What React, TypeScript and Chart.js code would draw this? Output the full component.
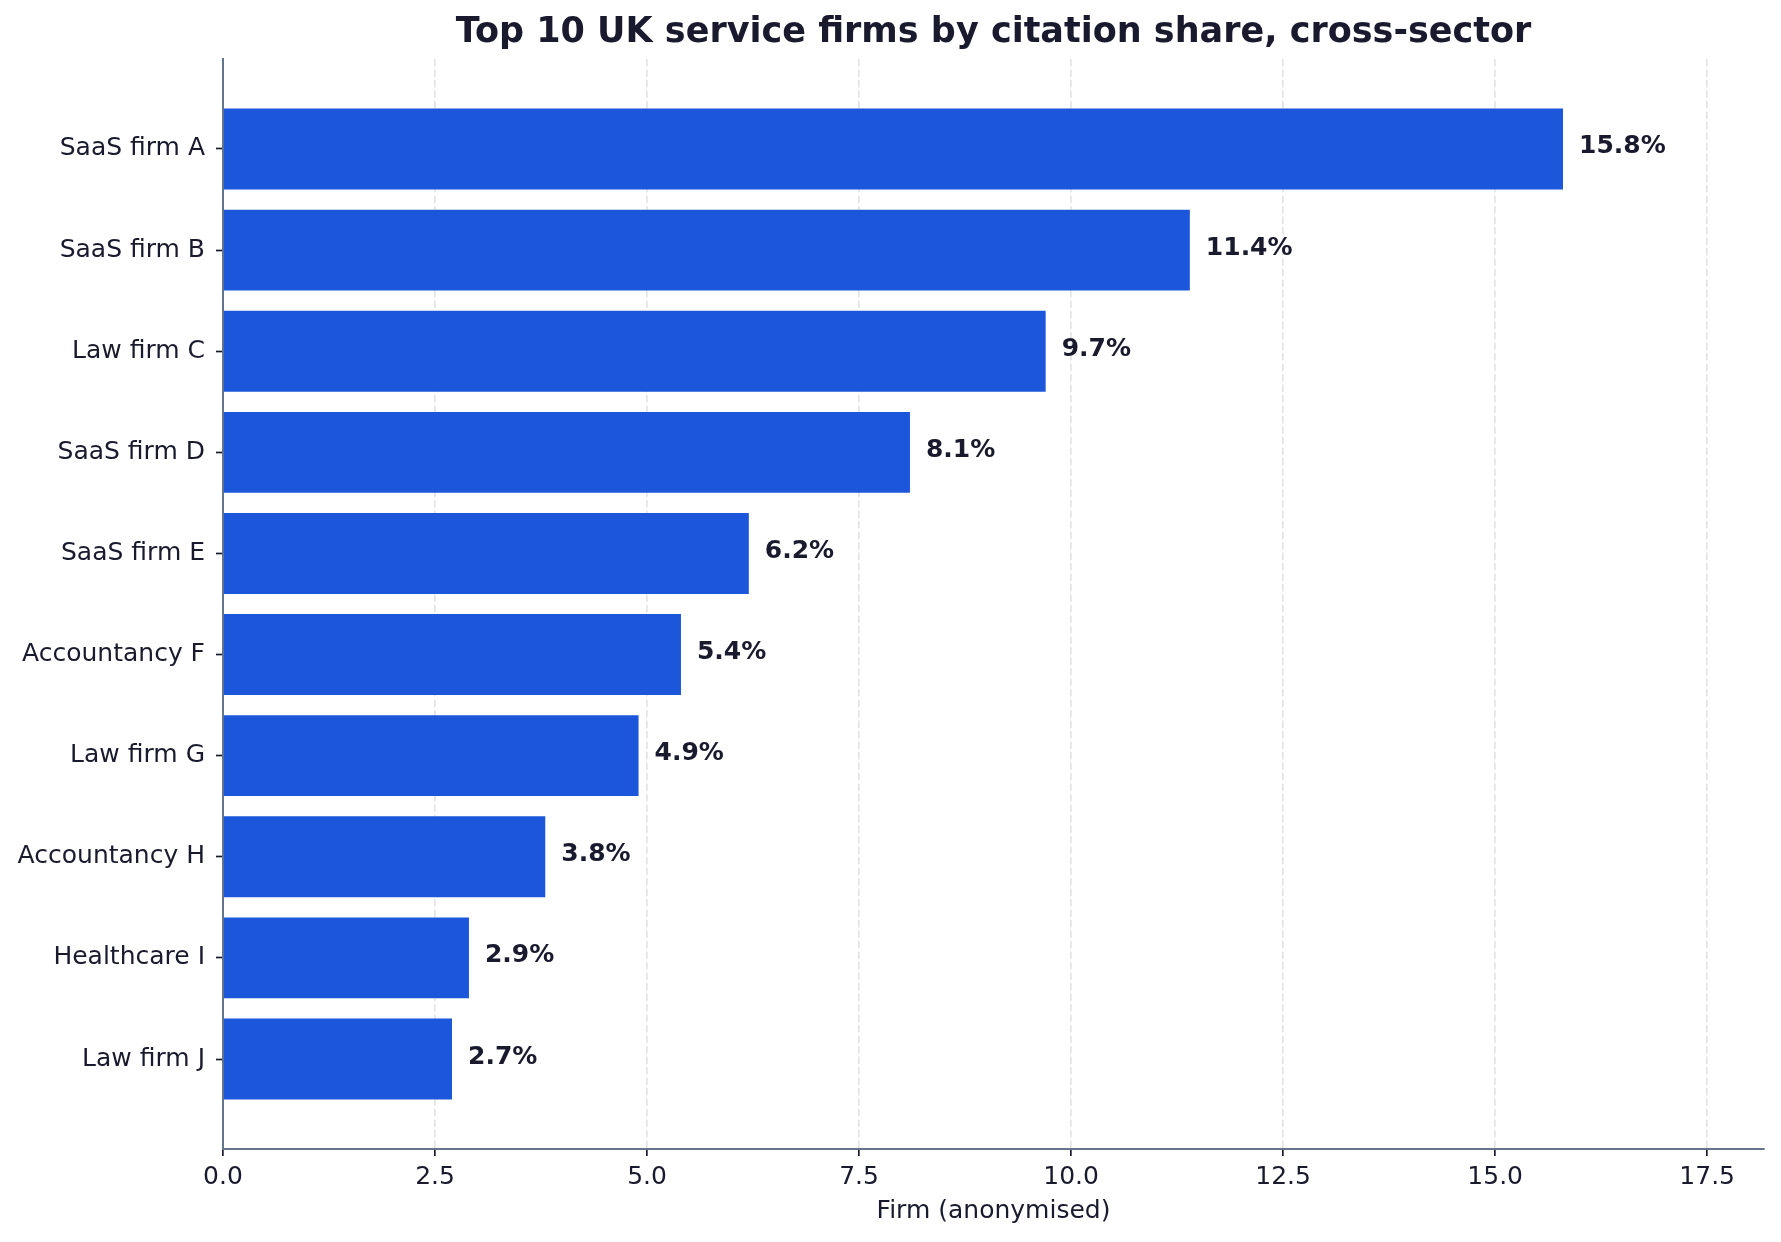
import { useEffect, useRef } from 'react';
import { Chart, registerables } from 'chart.js';
import type { Plugin } from 'chart.js';

Chart.register(...registerables);

const FIRMS = [
  'SaaS firm A', 'SaaS firm B', 'Law firm C', 'SaaS firm D', 'SaaS firm E',
  'Accountancy F', 'Law firm G', 'Accountancy H', 'Healthcare I', 'Law firm J',
];
const SHARE = [15.8, 11.4, 9.7, 8.1, 6.2, 5.4, 4.9, 3.8, 2.9, 2.7];
const X_TICKS = [0, 2.5, 5, 7.5, 10, 12.5, 15, 17.5];
const X_MAX = 18.17;

const INK = '#1a1a2e';
const SPINE = '#64748b';
const BAR = '#1c56db';
const GRID = '#e4e4e4';
const FONT = "'DejaVu Sans', sans-serif";

// "15.8%" style labels just past the end of each bar
const valueLabels: Plugin<'bar'> = {
  id: 'valueLabels',
  afterDatasetsDraw(chart) {
    const { ctx } = chart;
    const meta = chart.getDatasetMeta(0);
    ctx.save();
    ctx.font = `bold 25px ${FONT}`;
    ctx.fillStyle = INK;
    ctx.textAlign = 'left';
    ctx.textBaseline = 'middle';
    meta.data.forEach((bar, i) => {
      ctx.fillText(`${SHARE[i].toFixed(1)}%`, bar.x + 16, bar.y - 2);
    });
    ctx.restore();
  },
};

export default function App() {
  const canvasRef = useRef<HTMLCanvasElement>(null);

  useEffect(() => {
    document.body.style.margin = '0';
    if (!canvasRef.current) return;

    const chart = new Chart(canvasRef.current, {
      type: 'bar',
      data: {
        datasets: [{
          data: SHARE.map((v, i) => ({ x: v, y: i })),
          backgroundColor: BAR,
          borderWidth: 0,
          categoryPercentage: 1,
          barPercentage: 0.8,
        }],
      },
      options: {
        indexAxis: 'y',
        animation: false,
        responsive: true,
        maintainAspectRatio: false,
        layout: { padding: { left: 0, right: 17, top: 0, bottom: 0 } },
        plugins: {
          legend: { display: false },
          tooltip: { enabled: false },
          title: {
            display: true,
            text: 'Top 10 UK service firms by citation share, cross-sector',
            fullSize: false,
            color: INK,
            font: { family: FONT, size: 35, weight: 'bold', lineHeight: 1.2 },
            padding: { top: 11.5, bottom: 5.5 },
          },
        },
        scales: {
          x: {
            type: 'linear',
            position: 'bottom',
            min: 0,
            max: X_MAX,
            afterBuildTicks: (s: any) => { s.ticks = X_TICKS.map(value => ({ value })); },
            afterFit: (s: any) => { s.height = 93; },
            ticks: {
              color: INK,
              font: { family: FONT, size: 25 },
              padding: 6,
              maxRotation: 0,
              autoSkip: false,
              callback: (v: any) => Number(v).toFixed(1),
            },
            grid: {
              color: (c: any) => (c.tick && c.tick.value === 0 ? 'rgba(0,0,0,0)' : GRID),
              lineWidth: 1.7,
              tickColor: INK,
              tickLength: 7,
              tickWidth: 1.7,
            },
            border: { display: true, color: SPINE, width: 2, dash: [7.5, 3] },
            title: {
              display: true,
              text: 'Firm (anonymised)',
              color: INK,
              font: { family: FONT, size: 25, lineHeight: 1.2 },
              padding: { top: 0, bottom: 16 },
            },
          },
          y: {
            type: 'linear',
            reverse: true,
            offset: false,
            min: -0.89,
            max: 9.89,
            bounds: 'data',
            afterBuildTicks: (s: any) => { s.ticks = FIRMS.map((_, i) => ({ value: i })); },
            afterFit: (s: any) => { s.width = 223; },
            ticks: {
              color: INK,
              font: { family: FONT, size: 25 },
              padding: 11,
              autoSkip: false,
              callback: (v: any) => FIRMS[v] ?? '',
            },
            grid: {
              offset: false,
              drawOnChartArea: false,
              tickColor: INK,
              tickLength: 7,
              tickWidth: 1.7,
            },
            border: { display: true, color: SPINE, width: 2 },
          },
        },
      },
      plugins: [valueLabels],
    });

    return () => { chart.destroy(); };
  }, []);

  return (
    <div style={{ width: 1781, height: 1242, background: '#fff' }}>
      <canvas ref={canvasRef} />
    </div>
  );
}
